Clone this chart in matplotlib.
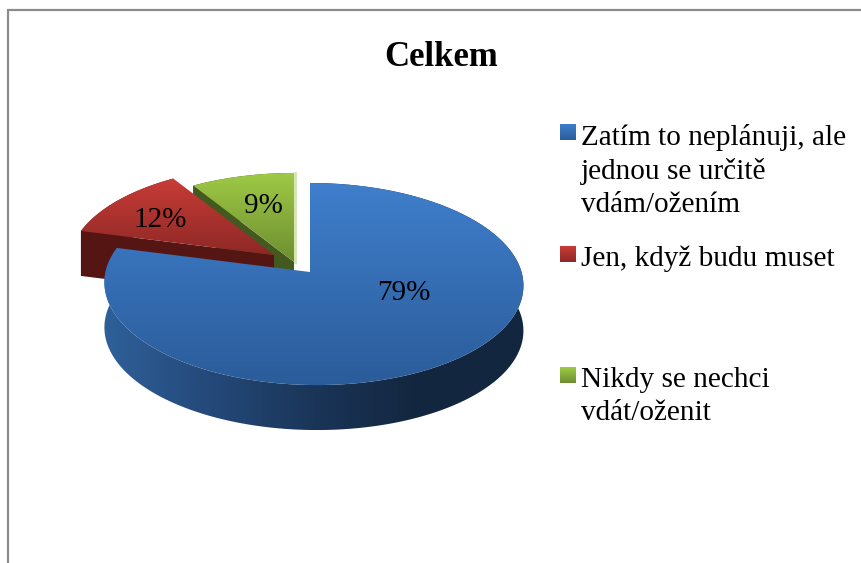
import numpy as np
import matplotlib
matplotlib.use('Agg')
import matplotlib.pyplot as plt
from matplotlib.colors import LinearSegmentedColormap
from matplotlib.patches import Polygon

plt.rcParams['font.family'] = ['Liberation Serif', 'DejaVu Serif']

# data
title = 'Celkem'
values = [79, 12, 9]
labels = ['Zatím to neplánuji, ale\njednou se určitě\nvdám/ožením',
          'Jen, když budu muset',
          'Nikdy se nechci\nvdát/oženit']

# slice style: apex of each slice in pixels (exploded pie)
apex = [(310, 272), (274, 255), (294, 262)]
top_colors = [('#3f7fcc', '#2b5c9a'), ('#c83c38', '#8e2825'), ('#9fca46', '#6d8e30')]
cut_colors = ['#1d3a60', '#551613', '#44591f']
label_pos = [(404, 293), (160, 220), (263, 206)]
legend_y = [124, 246, 367]

RX, RY, K, SKEW, DEPTH = 208, 99.6, 0.119, 3.5, 45

fig = plt.figure(figsize=(8.62, 5.63), dpi=100)
ax = fig.add_axes([0, 0, 1, 1])


def rim(a, t):
    # perspective ellipse, t is clockwise from 12 o'clock
    s, c = np.sin(t), np.cos(t)
    x = a[0] + RX * s / (1 + K * c) + SKEW * (1 - c)
    y = a[1] - RY * c / (1 + K * c)
    return np.column_stack([x, y])


def gradient(poly, colors, vertical=True, z=1):
    # fill a polygon with a linear gradient, clipped to it
    cmap = LinearSegmentedColormap.from_list('g', colors)
    x0, y0 = poly.min(axis=0)
    x1, y1 = poly.max(axis=0)
    ramp = np.linspace(0, 1, 256)
    ramp = ramp.reshape(-1, 1) if vertical else ramp.reshape(1, -1)
    im = ax.imshow(ramp, cmap=cmap, extent=(x0, x1, y1, y0), origin='upper',
                   aspect='auto', zorder=z, interpolation='bilinear')
    im.set_clip_path(Polygon(poly, closed=True, transform=ax.transData))


fracs = np.array(values) / sum(values)
edges = np.concatenate([[0], np.cumsum(fracs)]) * 2 * np.pi
down = np.array([0, DEPTH])

# green first, then red, blue on top
for i in [2, 1, 0]:
    z = 10 + (2 - i) * 10
    t = np.linspace(edges[i], edges[i + 1], 160)
    outer = rim(apex[i], t)
    a = np.array(apex[i], dtype=float)

    # cut face along the leading edge of the slice
    cut = np.vstack([outer[0], a, a + down, outer[0] + down])
    ax.add_patch(Polygon(cut, closed=True, fc=cut_colors[i], ec='none', zorder=z))

    # outer wall
    wall = np.vstack([outer, (outer + down)[::-1]])
    if i == 0:
        gradient(wall, ['#2e6099', '#24497a', '#1a3558', '#13263f', '#13263f'],
                 vertical=False, z=z + 1)
    else:
        ax.add_patch(Polygon(wall, closed=True, fc=cut_colors[i], ec='none', zorder=z + 1))

    # top face
    face = np.vstack([a, outer])
    gradient(face, top_colors[i], z=z + 2)

    # pale edge on the right of the green slice
    if i == 2:
        ax.plot([outer[-1][0] + 1, a[0] + 1], [outer[-1][1], a[1]],
                color='#d3e4ae', lw=2, zorder=z + 3)

# percentages
for v, (x, y) in zip(values, label_pos):
    ax.text(x, y, f'{v}%', fontsize=21, ha='center', va='center', zorder=50)

ax.text(441, 58, title, fontsize=25, fontweight='bold', ha='center', va='center')

# legend
for i, lab in enumerate(labels):
    y = legend_y[i]
    sw = np.array([(560, y), (576, y), (576, y + 16), (560, y + 16)], dtype=float)
    gradient(sw, top_colors[i], z=5)
    ax.text(581, y, lab, fontsize=21.1, ha='left', va='top', linespacing=1.33)

# chart frame, cut off at right and bottom
ax.plot([8, 8, 862], [563, 10, 10], color='#8c8c8c', lw=1.6, solid_joinstyle='miter')

ax.set_xlim(0, 862)
ax.set_ylim(563, 0)
ax.axis('off')

plt.savefig('out.png', dpi=100)
